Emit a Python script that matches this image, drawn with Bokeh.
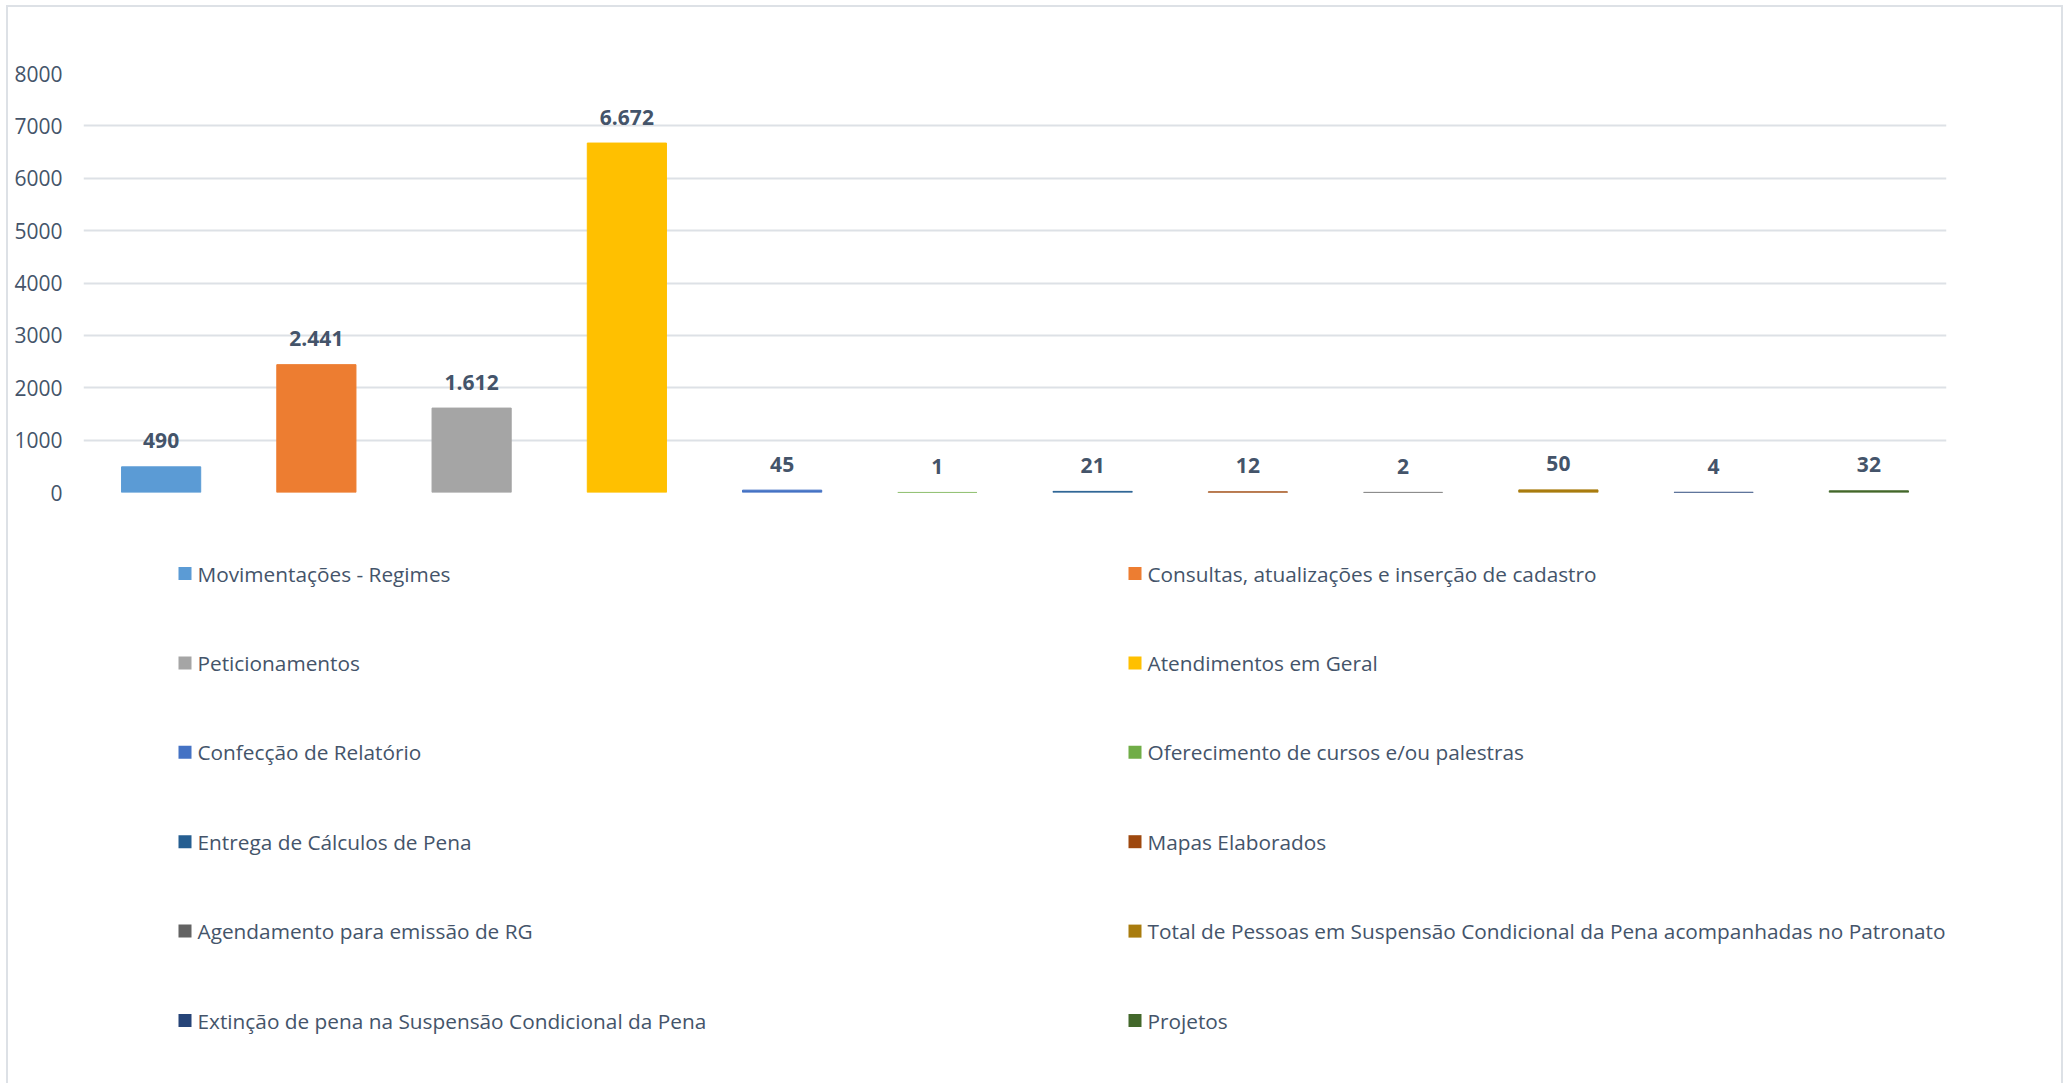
from bokeh.plotting import figure
from bokeh.layouts import column
from bokeh.models import FactorRange, Range1d, FixedTicker, ColumnDataSource
from bokeh.core.properties import value
from bokeh.embed import file_html
from bokeh.resources import INLINE

categories = [
    "Movimentações - Regimes",
    "Consultas, atualizações e inserção de cadastro",
    "Peticionamentos",
    "Atendimentos em Geral",
    "Confecção de Relatório",
    "Oferecimento de cursos e/ou palestras",
    "Entrega de Cálculos de Pena",
    "Mapas Elaborados",
    "Agendamento para emissão de RG",
    "Total de Pessoas em Suspensão Condicional da Pena acompanhadas no Patronato",
    "Extinção de pena na Suspensão Condicional da Pena",
    "Projetos",
]
values = [490, 2441, 1612, 6672, 45, 1, 21, 12, 2, 50, 4, 32]
colors = ["#5B9BD5", "#ED7D31", "#A5A5A5", "#FFC000", "#4472C4", "#70AD47",
          "#255E91", "#9E480E", "#636363", "#A97C0E", "#264478", "#43682B"]
y_ticks = [0, 1000, 2000, 3000, 4000, 5000, 6000, 7000, 8000]

FONT = "Open Sans"
TXT = "#44546a"
W = 2053
BL, BR = 75, 115          # frame borders (left / right)
H1, H2 = 511, 565

labels = [f"{v:,}".replace(",", ".") for v in values]
src = ColumnDataSource(dict(cat=categories, val=values, col=colors, lab=labels))

p = figure(x_range=FactorRange(*categories, range_padding=0),
           y_range=Range1d(0, 8000),
           width=W, height=H1, output_backend="svg", toolbar_location=None,
           min_border_left=BL, min_border_right=BR,
           min_border_top=66, min_border_bottom=26)
p.frame_align = False
p.outline_line_color = None
p.background_fill_color = "white"
p.border_fill_color = "white"

p.vbar(x="cat", top="val", width=0.51, fill_color="col", line_color="col",
       line_width=1, source=src)
p.text(x="cat", y="val", text="lab", source=src, text_align="center",
       text_baseline="alphabetic", y_offset=-26, text_font=value(FONT),
       text_font_style="bold", text_font_size="21px", text_color=TXT)

p.xaxis.visible = False
p.xgrid.grid_line_color = None
p.ygrid.grid_line_color = "#dde1e6"
p.ygrid.grid_line_width = 2
p.yaxis.ticker = FixedTicker(ticks=y_ticks)
p.yaxis.axis_line_color = None
p.yaxis.major_tick_line_color = None
p.yaxis.minor_tick_line_color = None
p.yaxis.major_tick_out = 0
p.yaxis.major_tick_in = 0
p.yaxis.major_label_standoff = 21
p.yaxis.major_label_text_font = FONT
p.yaxis.major_label_text_font_size = "21px"
p.yaxis.major_label_text_color = TXT

# legend figure: data units = figure pixels, y downward
lg = figure(x_range=Range1d(0, W), y_range=Range1d(H2, 0), width=W, height=H2,
            output_backend="svg", toolbar_location=None, min_border=0)
lg.frame_align = False
lg.outline_line_color = None
lg.axis.visible = False
lg.grid.visible = False
lg.border_fill_color = "white"

col_x = [170, 1120]
row_y0, row_dy = 55, 89.4
sx = [col_x[i % 2] + 6.5 for i in range(len(categories))]
sy = [row_y0 + row_dy * (i // 2) for i in range(len(categories))]
tx = [x + 12.5 for x in sx]
lsrc = ColumnDataSource(dict(sx=sx, sy=sy, tx=tx, name=categories, col=colors))
lg.rect(x="sx", y="sy", width=13, height=13, fill_color="col", line_color=None, source=lsrc)
lg.text(x="tx", y="sy", text="name", source=lsrc, text_baseline="middle",
        text_font=value(FONT), text_font_size="20.8px", text_color=TXT)

layout = column(p, lg, styles={"margin-left": "6px", "margin-top": "5px",
                               "border-left": "2px solid #dde1e6",
                               "border-top": "2px solid #dde1e6",
                               "border-right": "2px solid #dde1e6"})

open("out.html", "w").write(file_html(layout, INLINE))
